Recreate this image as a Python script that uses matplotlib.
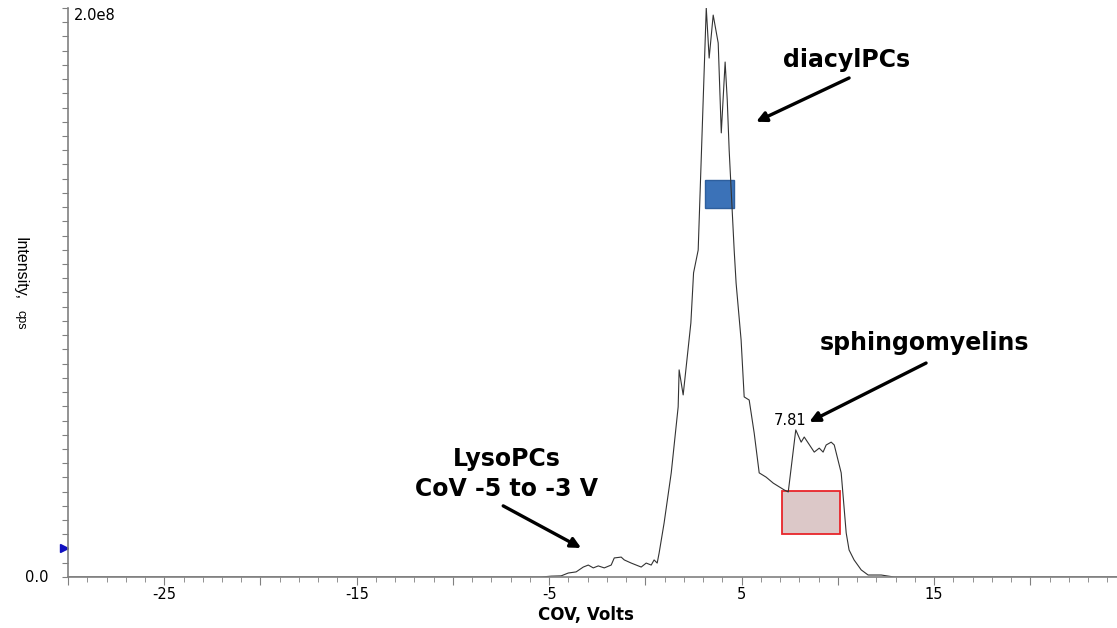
import matplotlib.pyplot as plt
import matplotlib.patches as patches
import numpy as np

# trace: COV (V) and intensity (x1e8 cps)
cov = [-30, -10, -5.4, -4.9, -4.38, -4.01, -3.6, -3.23, -2.97, -2.71, -2.45, -2.14,
       -1.78, -1.62, -1.26, -1.1, -0.74, -0.22, 0.04, 0.3, 0.45, 0.61, 0.71, 0.97,
       1.34, 1.7, 1.75, 1.96, 2.1, 2.36, 2.5, 2.74, 3.16, 3.31, 3.52, 3.78, 3.94,
       4.14, 4.25, 4.35, 4.61, 4.71, 4.97, 5.13, 5.39, 5.65, 5.91, 6.27, 6.64,
       7.21, 7.42, 7.81, 8.09, 8.25, 8.77, 9.03, 9.23, 9.39, 9.65, 9.81, 10.17,
       10.43, 10.58, 10.84, 11.21, 11.57, 12.25, 12.92, 18, 24.5]
intensity = [0, 0, 0, 0.003, 0.004, 0.014, 0.018, 0.035, 0.042, 0.032, 0.039, 0.032,
             0.042, 0.067, 0.070, 0.060, 0.049, 0.035, 0.049, 0.042, 0.060, 0.049, 0.084, 0.19,
             0.366, 0.598, 0.728, 0.640, 0.728, 0.893, 1.069, 1.149, 2.0, 1.824, 1.975, 1.877, 1.561,
             1.810, 1.677, 1.50, 1.149, 1.033, 0.833, 0.633, 0.622, 0.506, 0.366, 0.351, 0.330,
             0.306, 0.299, 0.517, 0.474, 0.492, 0.439, 0.453, 0.439, 0.464, 0.474, 0.464, 0.366,
             0.155, 0.095, 0.060, 0.025, 0.007, 0.007, 0.0, 0.0, 0.0]

peak_cov = 7.81
peak_label = "7.81"

x_labels = [-25, -15, -5, 5, 15]

fig = plt.figure(figsize=(11.17, 6.28), dpi=100)
ax = fig.add_axes([0.0609, 0.0812, 0.9391, 0.9061])

ax.plot(cov, intensity, color="#333333", lw=0.8)

ax.set_xlim(-30, 24.5)
ax.set_ylim(0, 2.0)

for s in ["top", "right"]:
    ax.spines[s].set_visible(False)
for s in ["left", "bottom"]:
    ax.spines[s].set_color("#808080")
    ax.spines[s].set_linewidth(1.2)

ax.set_xticks(np.arange(-30, 25, 5))
ax.set_xticklabels([str(v) if v in x_labels else "" for v in range(-30, 25, 5)],
                   fontsize=10.5, family="DejaVu Sans")
ax.set_xticks(np.arange(-30, 25, 1), minor=True)
ax.tick_params(axis="x", which="major", length=6, color="#808080", pad=1)
ax.tick_params(axis="x", which="minor", length=3.5, color="#808080")
ax.set_yticks(np.arange(0, 2.01, 0.05))
ax.set_yticklabels([])
ax.tick_params(axis="y", length=4, color="#808080")

ax.text(-29.7, 2.0, "2.0e8", fontsize=10.5, family="DejaVu Sans", va="top", ha="left")
ax.text(-31.0, 0.0, "0.0", fontsize=10.5, family="DejaVu Sans", va="center", ha="right")
ax.plot([-30.2], [0.102], marker=">", color="#1010c0", ms=6, clip_on=False)

fig.text(0.5245, 0.021, "COV, Volts", ha="center", va="center", fontsize=12,
         fontweight="bold", family="DejaVu Sans")
fig.text(0.018, 0.622, "Intensity,", rotation=-90, va="top", ha="center", fontsize=11.5,
         family="Liberation Sans")
fig.text(0.018, 0.506, "cps", rotation=-90, va="top", ha="center", fontsize=9,
         family="Liberation Sans")

# marker boxes
ax.add_patch(patches.Rectangle((3.10, 1.297), 1.51, 0.098, facecolor="#3b72b8",
                               edgecolor="#2e5f9e", lw=1))
ax.add_patch(patches.Rectangle((7.10, 0.151), 3.02, 0.151, facecolor="#dcc8c8",
                               edgecolor="#e8252a", lw=1.3))

ax.text(7.5, 0.522, peak_label, fontsize=10.5, family="DejaVu Sans",
        ha="center", va="bottom")

tf = dict(fontsize=17, fontweight="bold", family="DejaVu Sans", ha="center", va="center")
arr = dict(arrowstyle="-|>,head_length=0.6,head_width=0.3", color="black", lw=2.4,
           shrinkA=0, shrinkB=0)
ax.text(10.45, 1.817, "diacylPCs", **tf)
ax.annotate("", xy=(5.75, 1.60), xytext=(10.58, 1.754), arrowprops=arr)
ax.text(14.48, 0.822, "sphingomyelins", **tf)
ax.annotate("", xy=(8.51, 0.545), xytext=(14.58, 0.752), arrowprops=arr)
ax.text(-7.2, 0.415, "LysoPCs", **tf)
ax.text(-7.2, 0.309, "CoV -5 to -3 V", **tf)
ax.annotate("", xy=(-3.34, 0.102), xytext=(-7.39, 0.25), arrowprops=arr)

fig.savefig("out.png", dpi=100)
